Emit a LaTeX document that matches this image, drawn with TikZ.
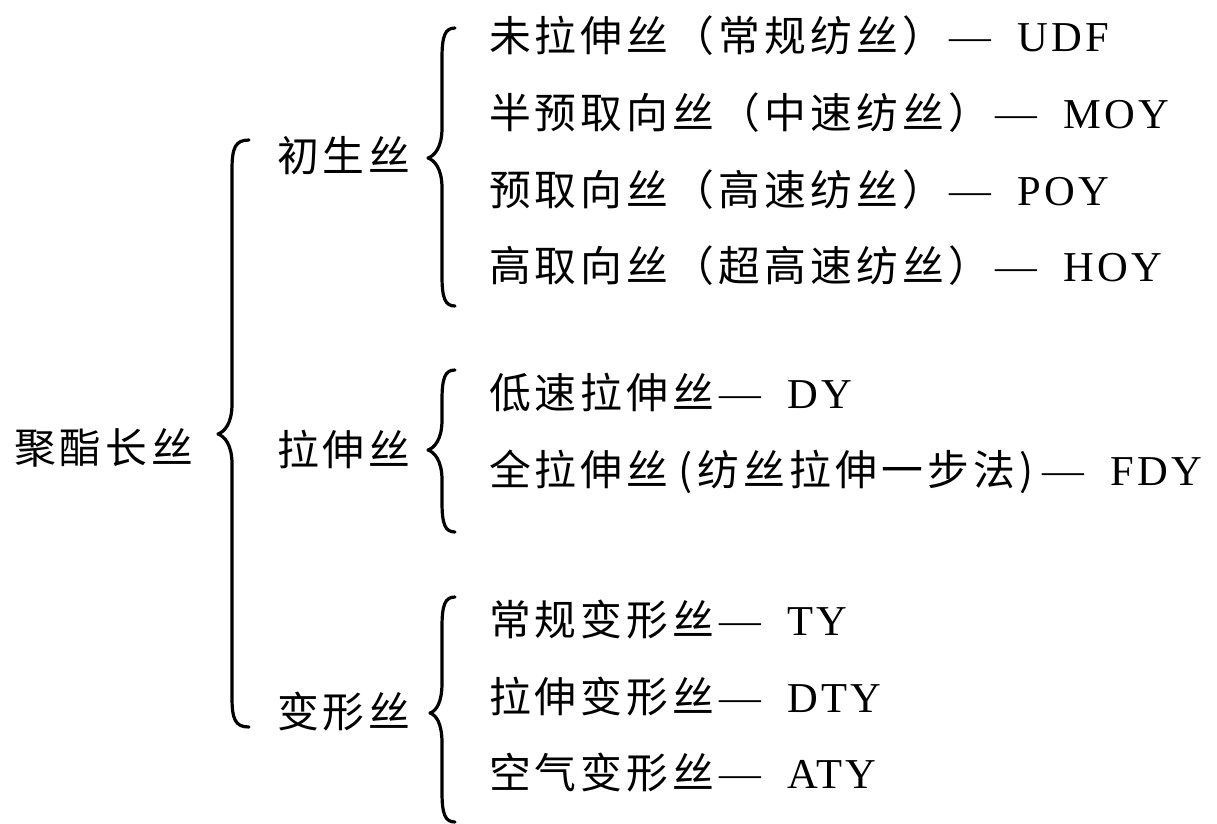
\documentclass[tikz,border=0pt]{standalone}
\usepackage{fontspec}
\setmainfont{Liberation Serif}
\newfontfamily\cjk[Scale=1.1]{Noto Sans CJK SC}
\newfontfamily\lat[LetterSpace=8,Scale=1.12]{Liberation Serif}
\newcommand\cells[1]{\cellsi#1\relax}
\def\cellsi#1{\ifx\relax#1\else\makebox[46pt][l]{#1}\expandafter\cellsi\fi}
\newcommand\dsh{\makebox[46pt][l]{\rmfamily\raisebox{2pt}{\scalebox{1.1}[1]{—}}}\hspace{22pt}}
\tikzset{
  txt/.style={anchor=base west, inner sep=0pt, outer sep=0pt, font=\fontsize{38}{40}\selectfont},
  brc/.style={line width=3.2pt, line cap=round, line join=round, black},
}
% brace: xtip, xvert, xend, top, tip y, bottom
\newcommand\mybrace[6]{%
  \draw[brc] (#3,#4) .. controls (#2+3,#4) and (#2,#4+8) .. (#2,#4+30)
    -- (#2,#5-30) .. controls (#2,#5-10) and (#1+6,#5-2) .. (#1,#5)
    .. controls (#1+6,#5+2) and (#2,#5+10) .. (#2,#5+30)
    -- (#2,#6-30) .. controls (#2,#6-8) and (#2+3,#6) .. (#3,#6);}
\begin{document}
\begin{tikzpicture}[x=1pt,y=-1pt]
\useasboundingbox (0,0) rectangle (1217,823);
% root
\node[txt] (root) at (14,463) {\cjk\cells{聚酯长丝}};
% level 1
\node[txt] (g1) at (277,171) {\cjk\cells{初生丝}};
\node[txt] (g2) at (277,465) {\cjk\cells{拉伸丝}};
\node[txt] (g3) at (277,727) {\cjk\cells{变形丝}};
% braces
\mybrace{218}{232}{249}{140}{434}{727}
\mybrace{428}{442}{455}{28}{158}{306}
\mybrace{428}{442}{455}{370}{450}{532}
\mybrace{430}{442}{455}{597}{713}{822}
% items group 1
\node[txt] (a1) at (489,51) {{\cjk\cells{未拉伸丝（常规纺丝）}}\dsh{\lat UDF}};
\node[txt] (a2) at (489,128) {{\cjk\cells{半预取向丝（中速纺丝）}}\dsh{\lat MOY}};
\node[txt] (a3) at (489,205) {{\cjk\cells{预取向丝（高速纺丝）}}\dsh{\lat POY}};
\node[txt] (a4) at (489,281) {{\cjk\cells{高取向丝（超高速纺丝）}}\dsh{\lat HOY}};
% items group 2
\node[txt] (b1) at (489,408) {{\cjk\cells{低速拉伸丝}}\dsh{\lat DY}};
\node[txt] (b2) at (489,485) {{\cjk\cells{全拉伸丝}\makebox[25pt][c]{(}\cells{纺丝拉伸一步法}\makebox[22pt][l]{)}}\dsh{\lat FDY}};
% items group 3
\node[txt] (c1) at (489,635) {{\cjk\cells{常规变形丝}}\dsh{\lat TY}};
\node[txt] (c2) at (489,712) {{\cjk\cells{拉伸变形丝}}\dsh{\lat DTY}};
\node[txt] (c3) at (489,788) {{\cjk\cells{空气变形丝}}\dsh{\lat ATY}};
\end{tikzpicture}
\end{document}
